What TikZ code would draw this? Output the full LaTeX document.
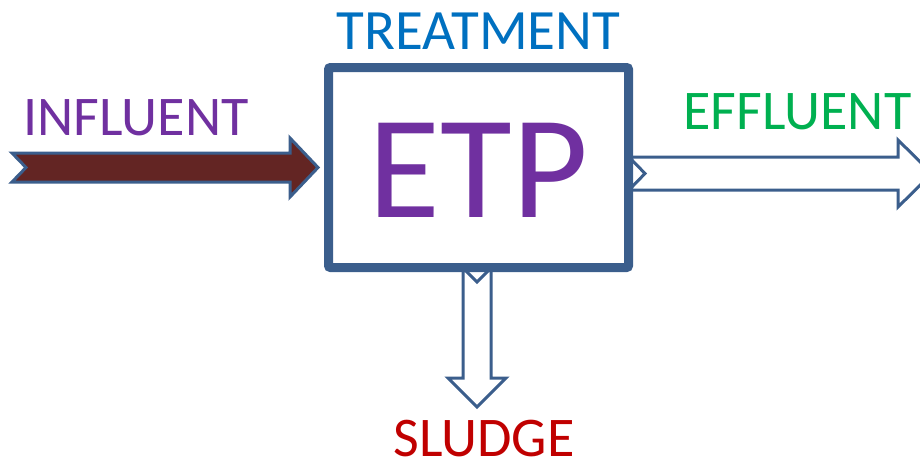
\documentclass[tikz,border=0pt]{standalone}
\usepackage{fontspec}
\setmainfont{Carlito}
\usetikzlibrary{positioning}
\definecolor{edgeblue}{HTML}{3B5E8C}
\definecolor{inred}{HTML}{632523}
\definecolor{titleblue}{HTML}{0070C0}
\definecolor{etppurple}{HTML}{7030A0}
\definecolor{effgreen}{HTML}{00B050}
\definecolor{sludgered}{HTML}{C00000}
\begin{document}
\begin{tikzpicture}[x=1pt, y=-1pt,
    plant/.style = {draw=edgeblue, line width=9pt, rounded corners=2pt, fill=white,
                    minimum width=300pt, minimum height=200pt, inner sep=0pt,
                    text=etppurple, font=\fontsize{147}{147}\selectfont},
    flowarrow/.style = {draw=edgeblue, line width=3pt, line join=miter},
    tag/.style = {inner sep=0pt, font=\fontsize{56}{56}\selectfont}]
    \useasboundingbox (0,0) rectangle (920,464);
    % flows
    \draw[flowarrow, fill=inred] (12,153) -- (290,153) -- (290,138) -- (318,167.5)
        -- (290,197) -- (290,182) -- (12,182) -- (26,167.5) -- cycle;
    \draw[flowarrow, fill=white] (629,157) -- (898,157) -- (898,140) -- (932,173.5)
        -- (898,207) -- (898,190) -- (629,190) -- (645,173.5) -- cycle;
    \draw[flowarrow, fill=white] (463,268) -- (477,282) -- (491,268) -- (491,378)
        -- (506,378) -- (477,407) -- (448,378) -- (463,378) -- cycle;
    % plant
    \node[plant] (etp) at (478.5,167.5) {\raisebox{-3pt}[\height][0pt]{ETP}};
    \node[tag, text=titleblue, font=\fontsize{57}{57}\selectfont] (treat) [above=13pt of etp] {TREATMENT};
    \node[tag, text=etppurple] (infl) at (136,118) {INFLUENT};
    \node[tag, text=effgreen] (effl) at (797.5,112) {EFFLUENT};
    \node[tag, text=sludgered] (sludge) at (484,439) {SLUDGE};
\end{tikzpicture}
\end{document}
